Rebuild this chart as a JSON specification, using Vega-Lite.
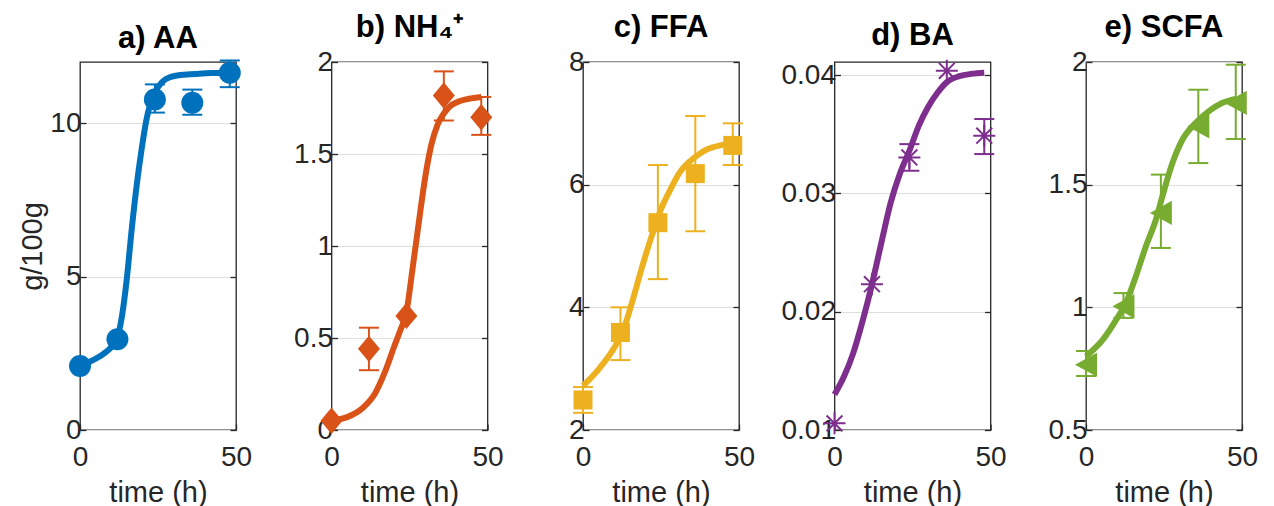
{
  "$schema": "https://vega.github.io/schema/vega-lite/v6.json",
  "background": "white",
  "padding": {"left": 18, "top": 11, "right": 0, "bottom": 0},
  "bounds": "flush",
  "spacing": 95.5,
  "config": {
    "view": {"stroke": "#262626", "strokeWidth": 1.3},
    "font": "Liberation Sans",
    "axis": {"labelFont": "Liberation Sans", "labelFontSize": 28, "labelColor": "#262626", "titleFont": "Liberation Sans", "titleFontSize": 29, "titleFontWeight": "normal", "titleColor": "#262626", "domain": false, "tickColor": "#262626", "tickSize": -6, "tickWidth": 1.3, "gridColor": "#dedede", "gridWidth": 1.2, "format": "~f", "labelOverlap": false, "labelFlush": false},
    "axisX": {"labelPadding": 19, "titlePadding": 7},
    "axisY": {"labelPadding": 5, "titlePadding": 2},
    "title": {"font": "Liberation Sans", "fontSize": 31, "fontWeight": "bold", "color": "#000000", "offset": 0}
  },
  "datasets": {
    "aFit": [{"t":0,"v":2.1},{"t":4,"v":2.27},{"t":8,"v":2.52},{"t":11.7,"v":2.96},{"t":13.3,"v":3.62},{"t":15,"v":4.93},{"t":16.6,"v":6.57},{"t":18.2,"v":8.0},{"t":19.8,"v":9.19},{"t":21.4,"v":10.17},{"t":23,"v":10.78},{"t":25.2,"v":11.21},{"t":27.3,"v":11.43},{"t":31.6,"v":11.57},{"t":37,"v":11.61},{"t":42,"v":11.64},{"t":48,"v":11.65}],
    "aObs": [{"t":0,"v":2.09,"lo":null,"hi":null},{"t":12,"v":2.96,"lo":null,"hi":null},{"t":24,"v":10.78,"lo":10.35,"hi":11.27},{"t":36,"v":10.67,"lo":10.28,"hi":11.1},{"t":48,"v":11.65,"lo":11.18,"hi":12.05}],
    "bFit": [{"t":0,"v":0.05},{"t":5,"v":0.07},{"t":10,"v":0.12},{"t":14,"v":0.2},{"t":17,"v":0.31},{"t":20,"v":0.45},{"t":22,"v":0.54},{"t":24,"v":0.64},{"t":26,"v":0.88},{"t":28,"v":1.13},{"t":30,"v":1.37},{"t":32,"v":1.55},{"t":34,"v":1.66},{"t":36,"v":1.72},{"t":38,"v":1.76},{"t":40,"v":1.78},{"t":44,"v":1.8},{"t":48,"v":1.81}],
    "bObs": [{"t":0,"v":0.05,"lo":null,"hi":null},{"t":12,"v":0.441,"lo":0.325,"hi":0.556},{"t":24,"v":0.62,"lo":null,"hi":null},{"t":36,"v":1.818,"lo":1.682,"hi":1.949},{"t":48,"v":1.7,"lo":1.604,"hi":1.81}],
    "cFit": [{"t":0,"v":2.72},{"t":5,"v":2.99},{"t":10,"v":3.34},{"t":13,"v":3.64},{"t":16,"v":4.13},{"t":19,"v":4.67},{"t":22,"v":5.16},{"t":25,"v":5.6},{"t":28,"v":5.92},{"t":31,"v":6.2},{"t":34,"v":6.37},{"t":37,"v":6.49},{"t":40,"v":6.58},{"t":44,"v":6.64},{"t":48,"v":6.67}],
    "cObs": [{"t":0,"v":2.49,"lo":2.28,"hi":2.7},{"t":12,"v":3.59,"lo":3.14,"hi":4.0},{"t":24,"v":5.38,"lo":4.46,"hi":6.32},{"t":36,"v":6.18,"lo":5.24,"hi":7.12},{"t":48,"v":6.64,"lo":6.32,"hi":7.0}],
    "dFit": [{"t":0,"v":0.013},{"t":3,"v":0.0145},{"t":6,"v":0.0165},{"t":9,"v":0.0192},{"t":12,"v":0.0223},{"t":15,"v":0.0258},{"t":18,"v":0.0292},{"t":21,"v":0.0317},{"t":24,"v":0.0336},{"t":27,"v":0.0357},{"t":30,"v":0.0373},{"t":33,"v":0.0385},{"t":36,"v":0.0394},{"t":40,"v":0.0399},{"t":44,"v":0.0401},{"t":48,"v":0.0402}],
    "dObs": [{"t":0,"v":0.01056,"lo":null,"hi":null},{"t":12,"v":0.02232,"lo":null,"hi":null},{"t":24,"v":0.03303,"lo":0.03191,"hi":0.03416},{"t":36,"v":0.04036,"lo":null,"hi":null},{"t":48,"v":0.03487,"lo":0.03332,"hi":0.03628}],
    "eFit": [{"t":0,"v":0.8},{"t":5.4,"v":0.868},{"t":9.7,"v":0.95},{"t":12.8,"v":1.018},{"t":16,"v":1.127},{"t":19.2,"v":1.249},{"t":22.4,"v":1.357},{"t":24.5,"v":1.453},{"t":27.7,"v":1.588},{"t":30.9,"v":1.683},{"t":35.1,"v":1.751},{"t":39.4,"v":1.8},{"t":43.6,"v":1.833},{"t":48,"v":1.85}],
    "eObs": [{"t":0,"v":0.766,"lo":0.72,"hi":0.822},{"t":12,"v":1.004,"lo":0.957,"hi":1.058},{"t":24,"v":1.385,"lo":1.242,"hi":1.541},{"t":36,"v":1.738,"lo":1.588,"hi":1.887},{"t":48,"v":1.833,"lo":1.686,"hi":1.989}]
  },
  "hconcat": [
    {
      "width": 156, "height": 368,
      "title": {"text": "a) AA"},
      "resolve": {"axis": {"y": "independent"}},
      "layer": [
        {"data": {"name": "aFit"}, "mark": {"type": "line", "color": "#0072BD", "strokeWidth": 6, "interpolate": "monotone", "clip": false},
         "encoding": {"x": {"field": "t", "type": "quantitative", "scale": {"domain": [0, 50], "nice": false}, "axis": {"values": [0, 50], "title": "time (h)", "grid": false}},
                      "y": {"field": "v", "type": "quantitative", "scale": {"domain": [0, 12], "nice": false, "zero": false}, "axis": {"values": [0, 5, 10], "title": "g/100g"}}}},
        {"data": {"name": "aObs"}, "transform": [{"filter": "datum.lo != null"}], "mark": {"type": "rule", "color": "#0072BD", "strokeWidth": 2},
         "encoding": {"x": {"field": "t", "type": "quantitative"}, "y": {"field": "lo", "type": "quantitative", "axis": null}, "y2": {"field": "hi"}}},
        {"data": {"name": "aObs"}, "transform": [{"filter": "datum.lo != null"}], "mark": {"type": "tick", "orient": "horizontal", "size": 20, "thickness": 2, "color": "#0072BD", "opacity": 1},
         "encoding": {"x": {"field": "t", "type": "quantitative"}, "y": {"field": "lo", "type": "quantitative", "axis": null}}},
        {"data": {"name": "aObs"}, "transform": [{"filter": "datum.lo != null"}], "mark": {"type": "tick", "orient": "horizontal", "size": 20, "thickness": 2, "color": "#0072BD", "opacity": 1},
         "encoding": {"x": {"field": "t", "type": "quantitative"}, "y": {"field": "hi", "type": "quantitative", "axis": null}}},
        {"data": {"name": "aObs"}, "mark": {"type": "point", "shape": "circle", "filled": true, "size": 484, "color": "#0072BD", "opacity": 1},
         "encoding": {"x": {"field": "t", "type": "quantitative"}, "y": {"field": "v", "type": "quantitative", "axis": {"orient": "right", "labels": false, "title": null, "grid": false, "values": [0, 5, 10]}}}}
      ]
    },
    {
      "width": 156, "height": 368,
      "title": {"text": "b) NH₄⁺"},
      "resolve": {"axis": {"y": "independent"}},
      "layer": [
        {"data": {"name": "bFit"}, "mark": {"type": "line", "color": "#D95319", "strokeWidth": 6, "interpolate": "monotone", "clip": false},
         "encoding": {"x": {"field": "t", "type": "quantitative", "scale": {"domain": [0, 50], "nice": false}, "axis": {"values": [0, 50], "title": "time (h)", "grid": false}},
                      "y": {"field": "v", "type": "quantitative", "scale": {"domain": [0, 2], "nice": false, "zero": false}, "axis": {"values": [0, 0.5, 1, 1.5, 2], "title": null}}}},
        {"data": {"name": "bObs"}, "transform": [{"filter": "datum.lo != null"}], "mark": {"type": "rule", "color": "#D95319", "strokeWidth": 2},
         "encoding": {"x": {"field": "t", "type": "quantitative"}, "y": {"field": "lo", "type": "quantitative", "axis": null}, "y2": {"field": "hi"}}},
        {"data": {"name": "bObs"}, "transform": [{"filter": "datum.lo != null"}], "mark": {"type": "tick", "orient": "horizontal", "size": 20, "thickness": 2, "color": "#D95319", "opacity": 1},
         "encoding": {"x": {"field": "t", "type": "quantitative"}, "y": {"field": "lo", "type": "quantitative", "axis": null}}},
        {"data": {"name": "bObs"}, "transform": [{"filter": "datum.lo != null"}], "mark": {"type": "tick", "orient": "horizontal", "size": 20, "thickness": 2, "color": "#D95319", "opacity": 1},
         "encoding": {"x": {"field": "t", "type": "quantitative"}, "y": {"field": "hi", "type": "quantitative", "axis": null}}},
        {"data": {"name": "bObs"}, "mark": {"type": "point", "shape": "M0,-1.2L1,0L0,1.2L-1,0Z", "filled": true, "size": 484, "color": "#D95319", "opacity": 1},
         "encoding": {"x": {"field": "t", "type": "quantitative"}, "y": {"field": "v", "type": "quantitative", "axis": {"orient": "right", "labels": false, "title": null, "grid": false, "values": [0, 0.5, 1, 1.5, 2]}}}}
      ]
    },
    {
      "width": 156, "height": 368,
      "title": {"text": "c) FFA"},
      "resolve": {"axis": {"y": "independent"}},
      "layer": [
        {"data": {"name": "cFit"}, "mark": {"type": "line", "color": "#EDB120", "strokeWidth": 6, "interpolate": "monotone", "clip": false},
         "encoding": {"x": {"field": "t", "type": "quantitative", "scale": {"domain": [0, 50], "nice": false}, "axis": {"values": [0, 50], "title": "time (h)", "grid": false}},
                      "y": {"field": "v", "type": "quantitative", "scale": {"domain": [2, 8], "nice": false, "zero": false}, "axis": {"values": [2, 4, 6, 8], "title": null}}}},
        {"data": {"name": "cObs"}, "transform": [{"filter": "datum.lo != null"}], "mark": {"type": "rule", "color": "#EDB120", "strokeWidth": 2},
         "encoding": {"x": {"field": "t", "type": "quantitative"}, "y": {"field": "lo", "type": "quantitative", "axis": null}, "y2": {"field": "hi"}}},
        {"data": {"name": "cObs"}, "transform": [{"filter": "datum.lo != null"}], "mark": {"type": "tick", "orient": "horizontal", "size": 20, "thickness": 2, "color": "#EDB120", "opacity": 1},
         "encoding": {"x": {"field": "t", "type": "quantitative"}, "y": {"field": "lo", "type": "quantitative", "axis": null}}},
        {"data": {"name": "cObs"}, "transform": [{"filter": "datum.lo != null"}], "mark": {"type": "tick", "orient": "horizontal", "size": 20, "thickness": 2, "color": "#EDB120", "opacity": 1},
         "encoding": {"x": {"field": "t", "type": "quantitative"}, "y": {"field": "hi", "type": "quantitative", "axis": null}}},
        {"data": {"name": "cObs"}, "mark": {"type": "point", "shape": "square", "filled": true, "size": 361, "color": "#EDB120", "opacity": 1},
         "encoding": {"x": {"field": "t", "type": "quantitative"}, "y": {"field": "v", "type": "quantitative", "axis": {"orient": "right", "labels": false, "title": null, "grid": false, "values": [2, 4, 6, 8]}}}}
      ]
    },
    {
      "width": 156, "height": 368,
      "title": {"text": "d) BA"},
      "resolve": {"axis": {"y": "independent"}},
      "layer": [
        {"data": {"name": "dFit"}, "mark": {"type": "line", "color": "#7E2F8E", "strokeWidth": 6, "interpolate": "monotone", "clip": false},
         "encoding": {"x": {"field": "t", "type": "quantitative", "scale": {"domain": [0, 50], "nice": false}, "axis": {"values": [0, 50], "title": "time (h)", "grid": false}},
                      "y": {"field": "v", "type": "quantitative", "scale": {"domain": [0.01, 0.0411], "nice": false, "zero": false}, "axis": {"values": [0.01, 0.02, 0.03, 0.04], "title": null}}}},
        {"data": {"name": "dObs"}, "transform": [{"filter": "datum.lo != null"}], "mark": {"type": "rule", "color": "#7E2F8E", "strokeWidth": 2},
         "encoding": {"x": {"field": "t", "type": "quantitative"}, "y": {"field": "lo", "type": "quantitative", "axis": null}, "y2": {"field": "hi"}}},
        {"data": {"name": "dObs"}, "transform": [{"filter": "datum.lo != null"}], "mark": {"type": "tick", "orient": "horizontal", "size": 20, "thickness": 2, "color": "#7E2F8E", "opacity": 1},
         "encoding": {"x": {"field": "t", "type": "quantitative"}, "y": {"field": "lo", "type": "quantitative", "axis": null}}},
        {"data": {"name": "dObs"}, "transform": [{"filter": "datum.lo != null"}], "mark": {"type": "tick", "orient": "horizontal", "size": 20, "thickness": 2, "color": "#7E2F8E", "opacity": 1},
         "encoding": {"x": {"field": "t", "type": "quantitative"}, "y": {"field": "hi", "type": "quantitative", "axis": null}}},
        {"data": {"name": "dObs"}, "mark": {"type": "point", "shape": "M-1,0L1,0M0,-1L0,1M-0.72,-0.72L0.72,0.72M-0.72,0.72L0.72,-0.72", "filled": false, "strokeWidth": 2, "size": 484, "color": "#7E2F8E", "opacity": 1},
         "encoding": {"x": {"field": "t", "type": "quantitative"}, "y": {"field": "v", "type": "quantitative", "axis": {"orient": "right", "labels": false, "title": null, "grid": false, "values": [0.01, 0.02, 0.03, 0.04]}}}}
      ]
    },
    {
      "width": 156, "height": 368,
      "title": {"text": "e) SCFA"},
      "resolve": {"axis": {"y": "independent"}},
      "layer": [
        {"data": {"name": "eFit"}, "mark": {"type": "line", "color": "#77AC30", "strokeWidth": 6, "interpolate": "monotone", "clip": false},
         "encoding": {"x": {"field": "t", "type": "quantitative", "scale": {"domain": [0, 50], "nice": false}, "axis": {"values": [0, 50], "title": "time (h)", "grid": false}},
                      "y": {"field": "v", "type": "quantitative", "scale": {"domain": [0.5, 2], "nice": false, "zero": false}, "axis": {"values": [0.5, 1, 1.5, 2], "title": null}}}},
        {"data": {"name": "eObs"}, "transform": [{"filter": "datum.lo != null"}], "mark": {"type": "rule", "color": "#77AC30", "strokeWidth": 2},
         "encoding": {"x": {"field": "t", "type": "quantitative"}, "y": {"field": "lo", "type": "quantitative", "axis": null}, "y2": {"field": "hi"}}},
        {"data": {"name": "eObs"}, "transform": [{"filter": "datum.lo != null"}], "mark": {"type": "tick", "orient": "horizontal", "size": 20, "thickness": 2, "color": "#77AC30", "opacity": 1},
         "encoding": {"x": {"field": "t", "type": "quantitative"}, "y": {"field": "lo", "type": "quantitative", "axis": null}}},
        {"data": {"name": "eObs"}, "transform": [{"filter": "datum.lo != null"}], "mark": {"type": "tick", "orient": "horizontal", "size": 20, "thickness": 2, "color": "#77AC30", "opacity": 1},
         "encoding": {"x": {"field": "t", "type": "quantitative"}, "y": {"field": "hi", "type": "quantitative", "axis": null}}},
        {"data": {"name": "eObs"}, "mark": {"type": "point", "shape": "M-1,0L1,-1.1L1,1.1Z", "filled": true, "size": 484, "color": "#77AC30", "opacity": 1},
         "encoding": {"x": {"field": "t", "type": "quantitative"}, "y": {"field": "v", "type": "quantitative", "axis": {"orient": "right", "labels": false, "title": null, "grid": false, "values": [0.5, 1, 1.5, 2]}}}}
      ]
    }
  ]
}
